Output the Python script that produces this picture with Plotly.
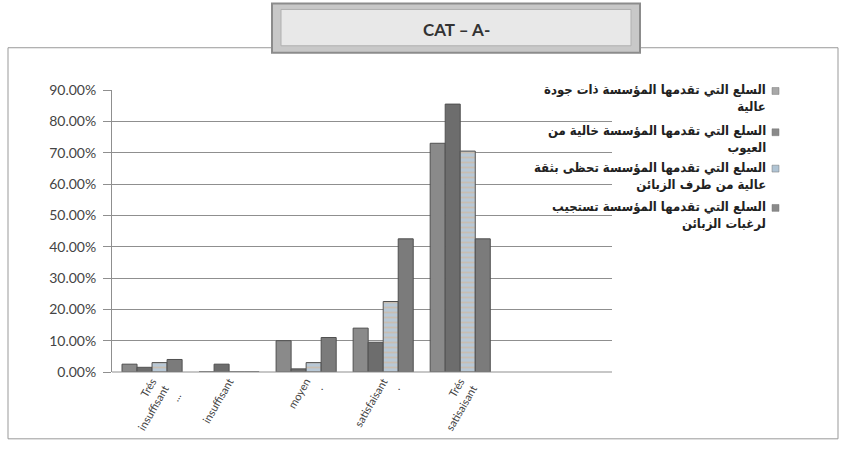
import plotly.graph_objects as go

categories = ["Trés<br>insuffisant<br>...", "insuffisant", "moyen<br>.", "satisfaisant<br>.", "Trés<br>satisaisant"]
series_names = [
    "السلع التي تقدمها المؤسسة ذات جودة عالية",
    "السلع التي تقدمها المؤسسة خالية من العيوب",
    "السلع التي تقدمها المؤسسة تحظى بثقة عالية من طرف الزبائن",
    "السلع التي تقدمها المؤسسة تستجيب لرغبات الزبائن",
]
legend_lines = [
    "السلع التي تقدمها المؤسسة ذات جودة<br>عالية",
    "السلع التي تقدمها المؤسسة خالية من<br>العيوب",
    "السلع التي تقدمها المؤسسة تحظى بثقة<br>عالية من طرف الزبائن",
    "السلع التي تقدمها المؤسسة تستجيب<br>لرغبات الزبائن",
]
s1 = [0.025, 0.0, 0.10, 0.14, 0.73]
s2 = [0.015, 0.025, 0.01, 0.095, 0.855]
s3 = [0.03, 0.0, 0.03, 0.225, 0.705]
s4 = [0.04, 0.0, 0.11, 0.425, 0.425]
y_ticks = [i / 10 for i in range(10)]
title_text = "CAT – A-"

W, H = 845, 452
L, R, T, B = 112, 233, 90, 75
PW, PH = W - L - R, H - T - B

def px(x):
    return (x - L) / PW

def py(y):
    return (H - B - y) / PH

colors = ["#8a8a8a", "#6d6d6d", "#b8c8d6", "#7b7b7b"]
legend_colors = ["#a8a8a8", "#8a8a8a", "#b0c4d4", "#8a8a8a"]

fig = go.Figure()
for i, (name, vals) in enumerate(zip(series_names, [s1, s2, s3, s4])):
    marker = dict(color=colors[i], line=dict(color="#505050", width=1))
    if i == 2:
        marker["pattern"] = dict(shape="-", fgcolor="#d9b38c", bgcolor=colors[i], size=5, solidity=0.35)
    fig.add_trace(go.Bar(x=list(range(len(categories))), y=vals, name=name, marker=marker))

fig.update_layout(
    width=W, height=H,
    margin=dict(l=L, r=R, t=T, b=B),
    paper_bgcolor="white", plot_bgcolor="white",
    barmode="group", bargap=0.22, bargroupgap=0,
    showlegend=False,
    font=dict(family="Lato, Open Sans, sans-serif", color="#333333"),
)
fig.update_xaxes(
    range=[-0.52, 5.97],
    tickmode="array", tickvals=list(range(len(categories))), ticktext=categories,
    tickangle=-60, tickfont=dict(size=11, color="#444444"),
    showgrid=False, zeroline=False, showline=False, ticks="",
)
fig.update_yaxes(
    range=[0, 0.9], tickvals=y_ticks + [0.9], tickformat=".2%",
    tickfont=dict(size=14, color="#444444"),
    showgrid=True, gridcolor="#8f8f8f", gridwidth=1,
    showline=True, linecolor="#8f8f8f", linewidth=1,
    ticks="outside", ticklen=8, tickcolor="#8f8f8f",
    ticklabelstandoff=4, zeroline=False,
)

shapes = []
shapes.append(dict(type="rect", xref="paper", yref="paper", x0=px(8), x1=px(838), y0=py(47), y1=py(445),
                   line=dict(color="#999999", width=1), fillcolor="rgba(0,0,0,0)", layer="below"))
shapes.append(dict(type="line", xref="paper", yref="paper", x0=px(112), x1=px(612), y0=py(377), y1=py(377),
                   line=dict(color="#8f8f8f", width=1)))
shapes.append(dict(type="rect", xref="paper", yref="paper", x0=px(272), x1=px(640), y0=py(2), y1=py(52),
                   line=dict(color="#8c8c8c", width=2), fillcolor="#c8c8c8"))
shapes.append(dict(type="rect", xref="paper", yref="paper", x0=px(281), x1=px(631), y0=py(8), y1=py(45),
                   line=dict(color="#b0b0b0", width=1), fillcolor="#e8e8e8"))
sq_y = [91, 133, 170, 210]
for i in range(4):
    shapes.append(dict(type="rect", xref="paper", yref="paper", x0=px(772), x1=px(779),
                       y0=py(sq_y[i] - 3.5), y1=py(sq_y[i] + 3.5),
                       line=dict(color="#777777", width=0.5), fillcolor=legend_colors[i]))

annotations = [dict(text="<b>" + title_text + "</b>", xref="paper", yref="paper", x=px(456), y=py(28),
                    showarrow=False, xanchor="center", yanchor="middle",
                    font=dict(size=17, color="#333333", family="Lato, Open Sans, sans-serif"))]
for i in range(4):
    annotations.append(dict(text="<b>" + legend_lines[i] + "</b>", xref="paper", yref="paper",
                            x=px(768), y=py(sq_y[i] - 11),
                            showarrow=False, xanchor="right", yanchor="top", align="right",
                            font=dict(size=13, color="#222222", family="DejaVu Sans Condensed, DejaVu Sans")))
fig.update_layout(shapes=shapes, annotations=annotations)

fig.write_html("out.html")
